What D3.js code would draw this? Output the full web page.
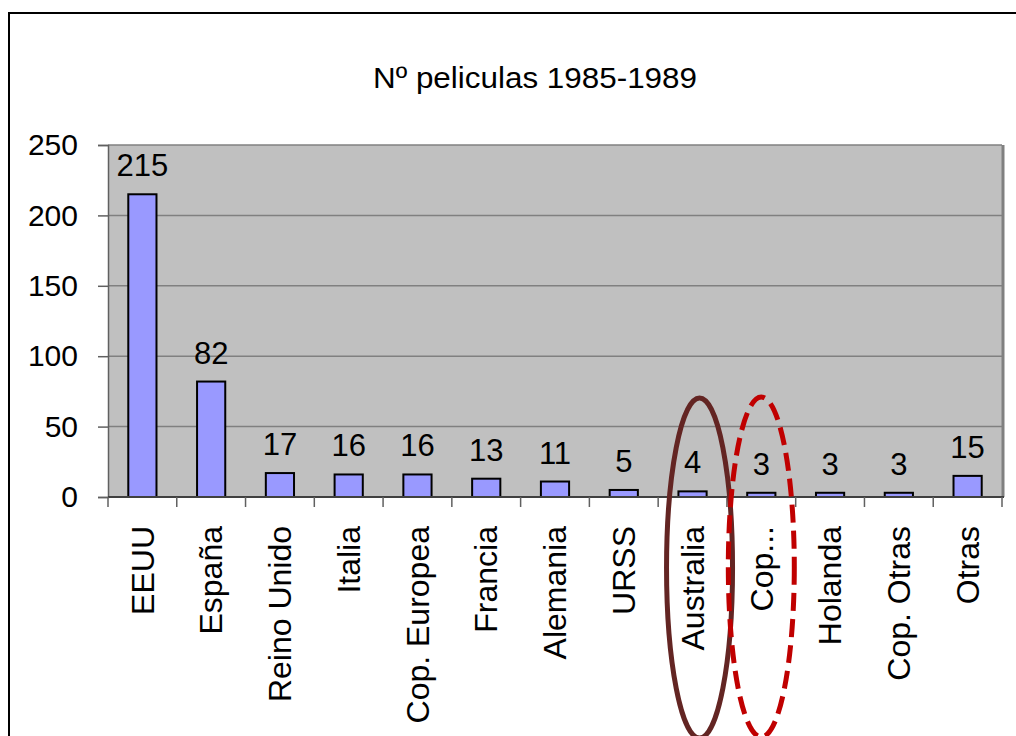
<!DOCTYPE html>
<meta charset="utf-8">
<style>
    body { margin: 0; background: #fff; }
    text { font-family: "Liberation Sans", Arial, sans-serif; fill: #000; }
</style>
<svg width="1016" height="736"></svg>
<script src="https://d3js.org/d3.v7.min.js"></script>
<script>
    var paises = ["EEUU", "España", "Reino Unido", "Italia", "Cop. Europea", "Francia",
        "Alemania", "URSS", "Australia", "Cop...", "Holanda", "Cop. Otras", "Otras"];
    var peliculas = [215, 82, 17, 16, 16, 13, 11, 5, 4, 3, 3, 3, 15];
    var yTicks = [0, 50, 100, 150, 200, 250];
    var titulo = "Nº peliculas 1985-1989";

    var svg = d3.select("svg");

    var plot = {left: 108, top: 145, right: 1002, bottom: 497};

    var x = d3.scaleBand()
        .domain(paises)
        .range([plot.left, plot.right])
        .paddingInner(0).paddingOuter(0);

    var y = d3.scaleLinear()
        .domain([0, 250])
        .range([plot.bottom, plot.top]);

    // outer frame
    svg.append("rect")
        .attr("x", 9).attr("y", 13)
        .attr("width", 1030).attr("height", 760)
        .attr("fill", "none")
        .attr("stroke", "#000")
        .attr("stroke-width", 2);

    svg.append("text")
        .attr("x", 535).attr("y", 88)
        .attr("text-anchor", "middle")
        .attr("font-size", 30)
        .attr("textLength", 324)
        .attr("lengthAdjust", "spacingAndGlyphs")
        .text(titulo);

    // plot background
    svg.append("rect")
        .attr("x", plot.left).attr("y", plot.top)
        .attr("width", plot.right - plot.left)
        .attr("height", plot.bottom - plot.top)
        .attr("fill", "#c0c0c0");

    // gridlines
    svg.append("g")
        .selectAll("line")
        .data(yTicks.filter(function(d) { return d > 0; }))
        .enter().append("line")
        .attr("x1", plot.left).attr("x2", plot.right)
        .attr("y1", function(d) { return y(d); })
        .attr("y2", function(d) { return y(d); })
        .attr("stroke", "#808080")
        .attr("stroke-width", 1.5);

    // plot border right side
    svg.append("line")
        .attr("x1", plot.right + 1).attr("x2", plot.right + 1)
        .attr("y1", plot.top).attr("y2", plot.bottom)
        .attr("stroke", "#808080")
        .attr("stroke-width", 3);

    // bars
    var barW = x.bandwidth() * 0.41;
    svg.append("g")
        .selectAll("rect")
        .data(paises)
        .enter().append("rect")
        .attr("x", function(d) { return x(d) + (x.bandwidth() - barW) / 2; })
        .attr("y", function(d, i) { return y(peliculas[i]); })
        .attr("width", barW)
        .attr("height", function(d, i) { return y(0) - y(peliculas[i]); })
        .attr("fill", "#9999ff")
        .attr("stroke", "#000")
        .attr("stroke-width", 2);

    // value labels
    svg.append("g")
        .selectAll("text")
        .data(paises)
        .enter().append("text")
        .attr("x", function(d) { return x(d) + x.bandwidth() / 2; })
        .attr("y", function(d, i) { return y(peliculas[i]) - 18; })
        .attr("text-anchor", "middle")
        .attr("font-size", 31)
        .text(function(d, i) { return peliculas[i]; });

    // y axis
    var yAxis = svg.append("g")
        .attr("transform", "translate(" + plot.left + ",0)")
        .call(d3.axisLeft(y).tickValues(yTicks).tickSize(10).tickPadding(20));
    yAxis.select(".domain").attr("stroke", "#606060").attr("stroke-width", 1.5);
    yAxis.selectAll(".tick line").attr("stroke", "#606060").attr("stroke-width", 1.5);
    yAxis.selectAll("text")
        .attr("font-size", 30)
        .attr("font-family", "Liberation Sans, Arial, sans-serif")
        .attr("fill", "#000");

    // x axis: ticks on band boundaries
    var xAxis = svg.append("g");
    xAxis.append("line")
        .attr("x1", plot.left).attr("x2", plot.right + 2)
        .attr("y1", plot.bottom).attr("y2", plot.bottom)
        .attr("stroke", "#404040")
        .attr("stroke-width", 2);
    xAxis.selectAll("line.tk")
        .data(paises.concat(["__end"]))
        .enter().append("line")
        .attr("class", "tk")
        .attr("x1", function(d, i) { return plot.left + i * x.bandwidth(); })
        .attr("x2", function(d, i) { return plot.left + i * x.bandwidth(); })
        .attr("y1", plot.bottom).attr("y2", plot.bottom + 10)
        .attr("stroke", "#606060")
        .attr("stroke-width", 1.5);

    xAxis.selectAll("text")
        .data(paises)
        .enter().append("text")
        .attr("transform", function(d) {
            return "translate(" + (x(d) + x.bandwidth() / 2) + ",526) rotate(-90)";
        })
        .attr("dy", "0.35em")
        .attr("text-anchor", "end")
        .attr("font-size", 32)
        .text(function(d) { return d; });

    // annotation ellipses around Australia and Cop...
    svg.append("ellipse")
        .attr("cx", x("Australia") + x.bandwidth() / 2 + 7)
        .attr("cy", 568)
        .attr("rx", 33).attr("ry", 170)
        .attr("fill", "none")
        .attr("stroke", "#632523")
        .attr("stroke-width", 5);

    svg.append("ellipse")
        .attr("cx", x("Cop...") + x.bandwidth() / 2)
        .attr("cy", 567)
        .attr("rx", 33).attr("ry", 170)
        .attr("fill", "none")
        .attr("stroke", "#c00000")
        .attr("stroke-width", 5)
        .attr("stroke-dasharray", "18,8");
</script>
